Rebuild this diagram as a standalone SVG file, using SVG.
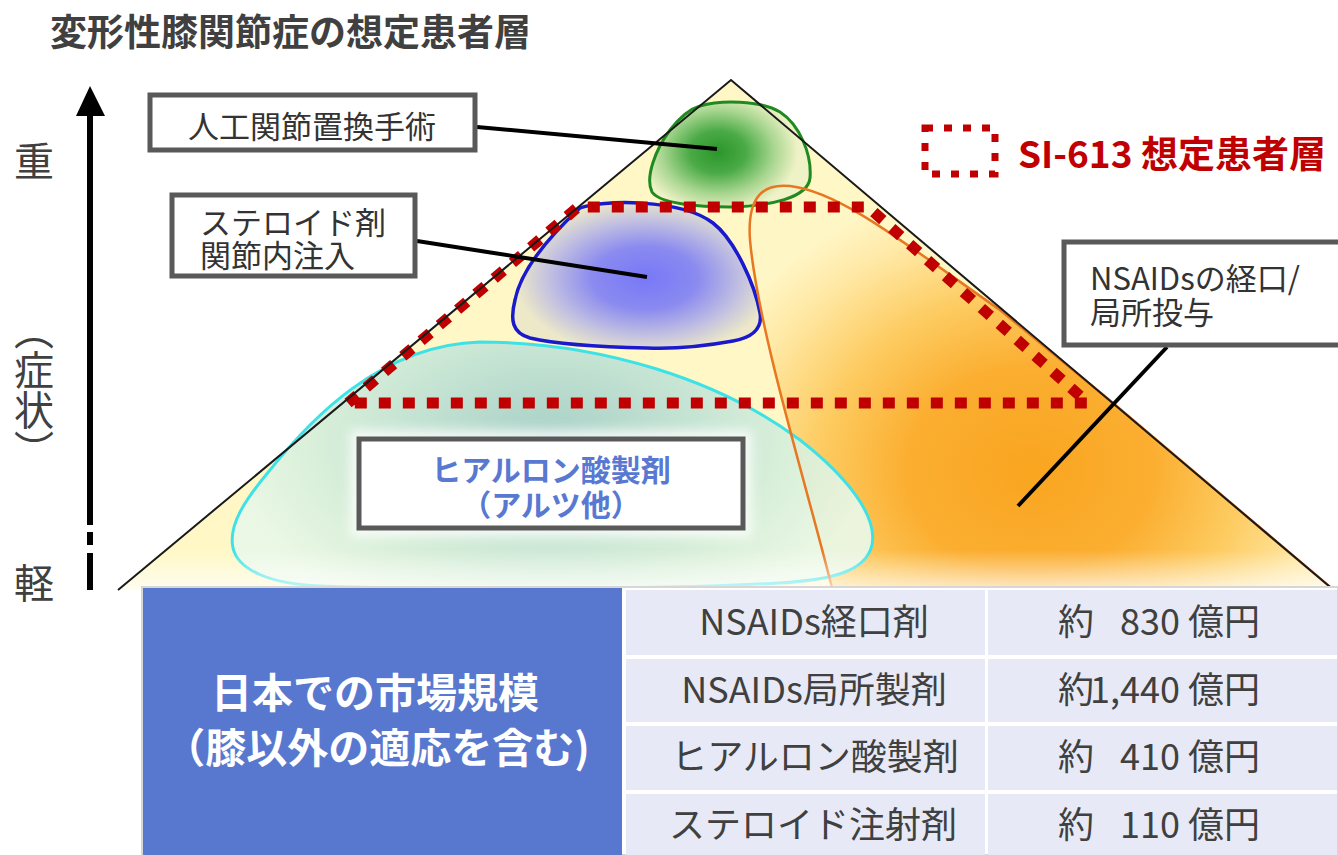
<svg xmlns="http://www.w3.org/2000/svg" width="1338" height="855" viewBox="0 0 1338 855">
<defs>
<style>
.jp{font-family:"Noto Sans CJK JP","Noto Sans",sans-serif;}
.lbl{fill:#333333;font-size:31px;}
.box{fill:#ffffff;stroke:#595959;stroke-width:5;}
.conn{stroke:#000000;stroke-width:4;fill:none;}
.cell{fill:#E7EAF6;}
.tt{fill:#404040;font-size:36px;}
.axis{fill:#404040;font-size:40px;}
</style>
<radialGradient id="gOrange" gradientUnits="userSpaceOnUse" cx="1030" cy="470" r="290" gradientTransform="translate(1030 470) scale(1.2 1) translate(-1030 -470)">
<stop offset="0" stop-color="#F9A520"/>
<stop offset="0.35" stop-color="#FBAE30"/>
<stop offset="0.6" stop-color="#FDCB60"/>
<stop offset="0.85" stop-color="#FFE9A6"/>
<stop offset="1" stop-color="#FFF6C6"/>
</radialGradient>
<radialGradient id="gCyan" gradientUnits="userSpaceOnUse" cx="550" cy="440" r="330" gradientTransform="translate(550 440) scale(1 0.6) translate(-550 -440)">
<stop offset="0" stop-color="#A0CCC6"/>
<stop offset="0.4" stop-color="#BDE0D3"/>
<stop offset="0.75" stop-color="#D8F0DC"/>
<stop offset="1" stop-color="#EAF8E8"/>
</radialGradient>
<radialGradient id="gBlue" gradientUnits="userSpaceOnUse" cx="645" cy="278" r="130" gradientTransform="translate(645 278) scale(1 0.6) translate(-645 -278)">
<stop offset="0" stop-color="#7878F8"/>
<stop offset="0.4" stop-color="#8A8AF0"/>
<stop offset="0.75" stop-color="#C4C2E0"/>
<stop offset="1" stop-color="#ECE8C8"/>
</radialGradient>
<radialGradient id="gGreen" gradientUnits="userSpaceOnUse" cx="718" cy="152" r="80" gradientTransform="translate(718 152) scale(1 0.75) translate(-718 -152)">
<stop offset="0" stop-color="#2B962B"/>
<stop offset="0.35" stop-color="#4AAA46"/>
<stop offset="0.7" stop-color="#A8D690"/>
<stop offset="1" stop-color="#EEF2C6"/>
</radialGradient>
<linearGradient id="gFade" gradientUnits="userSpaceOnUse" x1="0" y1="550" x2="0" y2="592">
<stop offset="0" stop-color="#ffffff" stop-opacity="0"/>
<stop offset="1" stop-color="#ffffff" stop-opacity="0.75"/>
</linearGradient>
<clipPath id="pyrClip"><polygon points="118,590 731,80 1336,592"/></clipPath>
<filter id="glow" x="-20%" y="-30%" width="140%" height="160%"><feGaussianBlur stdDeviation="6"/></filter>
</defs>

<rect x="0" y="0" width="1338" height="855" fill="#ffffff"/>

<!-- title -->
<text class="jp" x="50" y="46" font-size="37" font-weight="bold" fill="#404040">変形性膝関節症の想定患者層</text>

<!-- axis -->
<g id="axis">
<line x1="90" y1="112" x2="90" y2="525" stroke="#000" stroke-width="6"/>
<line x1="90" y1="532" x2="90" y2="545" stroke="#000" stroke-width="6"/>
<line x1="90" y1="553" x2="90" y2="590" stroke="#000" stroke-width="6"/>
<polygon points="90,86 76,116 105,116" fill="#000"/>
<text class="jp axis" x="34" y="176" text-anchor="middle">重</text>
<text class="jp axis" x="34" y="310" style="writing-mode:vertical-rl">（症状）</text>
<text class="jp axis" x="34" y="598" text-anchor="middle">軽</text>
</g>

<!-- pyramid -->
<g id="pyramid">
<polygon points="118,590 731,80 1336,592" fill="#FFF8C6"/>
<path id="orangeFill" d="M833,592 C808,490 758,330 750,240 C747,198 762,183 790,186 C840,192 900,240 1000,310 L1113,403 L1336,592 Z" fill="url(#gOrange)"/>
</g>

<g id="hyaluronic-region">
<path d="M480,342 C600,342 720,380 800,440 C845,475 878,515 872,545 C866,572 830,580 780,583 C650,590 450,590 320,586 C270,584 238,570 233,548 C228,525 245,500 270,470 C310,420 380,345 480,342 Z" fill="url(#gCyan)" fill-opacity="0.92" stroke="#3EE2E6" stroke-width="3"/>
</g>
<g id="steroid-region">
<path d="M580,208 C600,200 680,198 713,223 C735,240 755,285 760,313 C763,330 750,338 733,341 C700,347 670,349 647,348 C600,347 560,345 530,338 C512,333 510,320 515,300 C520,275 540,245 580,208 Z" fill="url(#gBlue)" stroke="#1A1ACC" stroke-width="3.5"/>
</g>
<g id="surgery-region">
<path d="M700,106 C720,100 760,100 780,112 C800,125 812,155 810,178 C808,198 770,206 730,207 C700,207 660,204 652,192 C645,178 655,150 670,130 C680,117 690,109 700,106 Z" fill="url(#gGreen)" stroke="#1F8A1F" stroke-width="3"/>
</g>
<g id="nsaids-region">
<path d="M833,592 C808,490 758,330 750,240 C747,198 762,183 790,186 C840,192 900,240 1000,310 L1113,403 L1336,592" fill="none" stroke="#E87722" stroke-width="2.5"/>
</g>

<rect x="100" y="540" width="1238" height="55" fill="url(#gFade)" clip-path="url(#pyrClip)"/>

<!-- SI-613 target -->
<g id="si613-target">
<polygon points="348,403 578,207 868,207 1088,403" fill="none" stroke="#C00000" stroke-width="11" stroke-dasharray="12 12"/>
</g>

<polyline points="118,590 731,80 1336,592" fill="none" stroke="#1a1a1a" stroke-width="2"/>

<!-- connectors -->
<g id="connectors">
<line class="conn" x1="477" y1="127" x2="717" y2="149"/>
<line class="conn" x1="417" y1="241" x2="647" y2="277"/>
<line class="conn" x1="1167" y1="347" x2="1018" y2="506"/>
</g>

<g id="label-surgery">
<rect class="box" x="150" y="95" width="325" height="55"/>
<text class="jp lbl" x="312" y="138" font-size="32" text-anchor="middle">人工関節置換手術</text>
</g>
<g id="label-steroid">
<rect class="box" x="172" y="195" width="243" height="81"/>
<text class="jp lbl"><tspan x="200" y="234">ステロイド剤</tspan><tspan x="200" y="267">関節内注入</tspan></text>
</g>
<g id="label-nsaids">
<rect class="box" x="1064" y="242" width="280" height="103"/>
<text class="jp lbl"><tspan x="1090" y="290">NSAIDsの経口/</tspan><tspan x="1090" y="324">局所投与</tspan></text>
</g>
<g id="label-hyaluronic">
<rect x="350" y="430" width="402" height="107" fill="#ffffff" opacity="0.8" filter="url(#glow)"/>
<rect class="box" x="359" y="439" width="384" height="89"/>
<text class="jp" font-size="30" font-weight="bold" fill="#5878D2" text-anchor="middle"><tspan x="551" y="481">ヒアルロン酸製剤</tspan><tspan x="551" y="516">（アルツ他）</tspan></text>
</g>

<!-- legend -->
<g id="legend">
<rect x="925" y="128" width="70" height="46" fill="none" stroke="#C00000" stroke-width="7" stroke-dasharray="8 11"/>
<text class="jp" x="1018" y="168" font-size="37" font-weight="bold" fill="#C00000">SI-613 想定患者層</text>
</g>

<!-- table -->
<g id="market-table">
<rect x="142" y="587" width="1196" height="268" fill="#ffffff" stroke="#D6D6D6" stroke-width="2"/>
<rect x="143" y="588" width="479" height="267" fill="#5878CF"/>
<text class="jp" font-size="41" font-weight="bold" fill="#ffffff" text-anchor="middle"><tspan x="375" y="708">日本での市場規模</tspan><tspan x="377" y="763">（膝以外の適応を含む)</tspan></text>

<rect class="cell" x="626" y="590" width="359" height="65"/>
<rect class="cell" x="988" y="590" width="349" height="65"/>
<rect class="cell" x="626" y="659" width="359" height="63"/>
<rect class="cell" x="988" y="659" width="349" height="63"/>
<rect class="cell" x="626" y="726" width="359" height="64"/>
<rect class="cell" x="988" y="726" width="349" height="64"/>
<rect class="cell" x="626" y="794" width="359" height="61"/>
<rect class="cell" x="988" y="794" width="349" height="61"/>

<text class="jp tt" x="814" y="635" text-anchor="middle">NSAIDs経口剤</text>
<text class="jp tt" x="814" y="703" text-anchor="middle">NSAIDs局所製剤</text>
<text class="jp tt" x="815" y="770" text-anchor="middle">ヒアルロン酸製剤</text>
<text class="jp tt" x="813" y="838" text-anchor="middle">ステロイド注射剤</text>

<text class="jp tt" y="635" font-size="37"><tspan x="1058">約</tspan><tspan x="1180" text-anchor="end">830</tspan><tspan x="1188">億円</tspan></text>
<text class="jp tt" y="703" font-size="37"><tspan x="1058">約</tspan><tspan x="1180" text-anchor="end">1,440</tspan><tspan x="1188">億円</tspan></text>
<text class="jp tt" y="770" font-size="37"><tspan x="1058">約</tspan><tspan x="1180" text-anchor="end">410</tspan><tspan x="1188">億円</tspan></text>
<text class="jp tt" y="838" font-size="37"><tspan x="1058">約</tspan><tspan x="1180" text-anchor="end">110</tspan><tspan x="1188">億円</tspan></text>
</g>
</svg>
